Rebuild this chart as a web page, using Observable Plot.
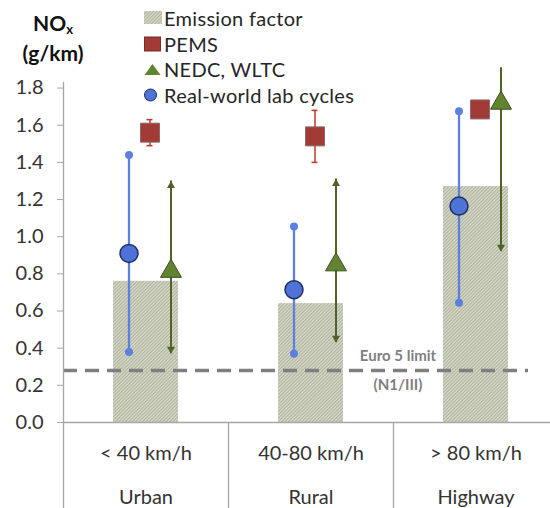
<!DOCTYPE html>
<html><head><meta charset="utf-8">
<script src="https://cdn.jsdelivr.net/npm/d3@7"></script>
<script src="https://cdn.jsdelivr.net/npm/@observablehq/plot@0.6"></script>
<style>
body{margin:0;background:#fff;font-family:Lato,"Open Sans",sans-serif;}
#wrap{position:relative;width:550px;height:508px;overflow:hidden;}
#wrap svg.chart{position:absolute;left:0;top:0;}
.ytitle{position:absolute;left:0;width:106px;text-align:center;font-weight:bold;font-size:21px;color:#111;line-height:21px;}
.legend{position:absolute;left:144px;top:5px;font-size:20px;letter-spacing:0.3px;color:#262626;}
.legend .row{height:25.7px;display:flex;align-items:center;white-space:nowrap;}
.legend svg{display:block;flex:none;}
</style></head>
<body>
<svg width="0" height="0" style="position:absolute">
<defs><pattern id="hatch" width="2.4" height="2.4" patternUnits="userSpaceOnUse" patternTransform="rotate(45)">
<rect width="2.4" height="2.4" fill="#d5d7c8"/><rect width="1" height="2.4" fill="#aeb29b"/></pattern></defs></svg>
<div id="wrap"></div>
<script>
// ---- data ----
const categories = ["< 40 km/h", "40-80 km/h", "> 80 km/h"];
const roads = ["Urban", "Rural", "Highway"];
const emissionFactor = [0.76, 0.64, 1.27];
const pemsMean = [1.56, 1.54, 1.685];
const pemsLow  = [1.49, 1.40, 1.685];
const pemsHigh = [1.63, 1.68, 1.685];
const cycleMean = [0.83, 0.865, 1.735];   // NEDC, WLTC
const cycleLow  = [0.37, 0.43, 0.92];
const cycleHigh = [1.30, 1.31, 1.91];
const labMean = [0.91, 0.715, 1.165];     // Real-world lab cycles
const labLow  = [0.38, 0.37, 0.645];
const labHigh = [1.44, 1.055, 1.675];
const euro5Limit = 0.28;
const yTicks = [0, 0.2, 0.4, 0.6, 0.8, 1.0, 1.2, 1.4, 1.6, 1.8];
const yMax = 1.83;
const legendItems = ["Emission factor", "PEMS", "NEDC, WLTC", "Real-world lab cycles"];

const rows = categories.map((c, i) => ({
  cat: c, road: roads[i], ef: emissionFactor[i],
  pm: pemsMean[i], pl: pemsLow[i], ph: pemsHigh[i],
  cm: cycleMean[i], cl: cycleLow[i], ch: cycleHigh[i],
  lm: labMean[i], ll: labLow[i], lh: labHigh[i]
}));

const axisGray = "#a6a6a6";
const blueLine = "#5b80de", blueFill = "#4f72d6", blueStroke = "#1f2f5f";
const redFill = "#a23a36", redLine = "#c0392b";
const greenFill = "#628330", greenLine = "#4f6228", greenStroke = "#3c5220";

const chart = Plot.plot({
  width: 550, height: 508,
  marginLeft: 63, marginRight: 0, marginTop: 82, marginBottom: 86,
  style: {fontFamily: "Lato, 'Open Sans', sans-serif", background: "transparent"},
  x: {type: "band", domain: categories, range: [63, 558], padding: 0},
  y: {domain: [0, yMax]},
  marks: [
    Plot.barY(rows, {x: "cat", y: "ef", fill: "url(#hatch)", insetLeft: 50, insetRight: 50}),
    Plot.ruleY([euro5Limit], {stroke: "#7f7f7f", strokeWidth: 3.5, strokeDasharray: "14,8", insetRight: 22}),
    Plot.text([{cat: categories[2], v: euro5Limit}], {x: "cat", y: "v", dx: -78, dy: -4,
      text: () => "Euro 5 limit\n(N1/III)", lineHeight: 1.9, fontSize: 15, fontWeight: "bold", fill: "#7f7f7f"}),
    // axes
    Plot.ruleY([0], {stroke: axisGray, strokeWidth: 1.3}),
    Plot.frame({anchor: "left", stroke: axisGray, strokeWidth: 1.3}),
    Plot.ruleX(categories, {x: d => d, dx: -82.5, y1: 0, y2: -0.47, stroke: axisGray, strokeWidth: 1.3}),
    Plot.axisY({ticks: yTicks, tickFormat: d3.format(".1f"), tickSize: 6, tickPadding: 14,
      fontSize: 20, stroke: axisGray, fill: "#333", label: null}),
    Plot.axisX({tickSize: 0, tickPadding: 6, lineHeight: 2.2, fontSize: 20, fill: "#333", label: null,
      tickFormat: d => d + "\n" + roads[categories.indexOf(d)]}),
    // real-world lab cycles (circle with range)
    Plot.ruleX(rows, {x: "cat", y1: "ll", y2: "lh", dx: -17, stroke: blueLine, strokeWidth: 2.3}),
    Plot.dot(rows, {x: "cat", y: "ll", dx: -17, r: 4, fill: blueLine}),
    Plot.dot(rows, {x: "cat", y: "lh", dx: -17, r: 4, fill: blueLine}),
    Plot.dot(rows, {x: "cat", y: "lm", dx: -17, r: 9, fill: blueFill, stroke: blueStroke, strokeWidth: 1.5}),
    // PEMS (square with error bar)
    Plot.ruleX(rows.filter(d => d.ph > d.pl), {x: "cat", y1: "pl", y2: "ph", dx: 4, stroke: redLine, strokeWidth: 1.5}),
    Plot.tickY(rows.filter(d => d.ph > d.pl), {x: "cat", y: "pl", dx: 4, stroke: redLine, strokeWidth: 1.5, insetLeft: 79.5, insetRight: 79.5}),
    Plot.tickY(rows.filter(d => d.ph > d.pl), {x: "cat", y: "ph", dx: 4, stroke: redLine, strokeWidth: 1.5, insetLeft: 79.5, insetRight: 79.5}),
    Plot.dot(rows, {x: "cat", y: "pm", dx: 4, symbol: "square", r: 10.7, fill: redFill, stroke: "#8a6a68", strokeWidth: 1}),
    // NEDC, WLTC (triangle with arrows)
    Plot.ruleX(rows, {x: "cat", y1: "cl", y2: "ch", dx: 25, stroke: greenLine, strokeWidth: 2}),
    Plot.dot(rows.filter(d => d.ch <= yMax), {x: "cat", y: "ch", dx: 25, dy: 4.6, symbol: "triangle", r: 3, fill: greenLine}),
    Plot.dot(rows, {x: "cat", y: "cl", dx: 25, dy: -4.6, symbol: "triangle", rotate: 180, r: 3, fill: greenLine}),
    Plot.dot(rows, {x: "cat", y: "cm", dx: 25, dy: 3, symbol: "triangle", r: 7.8, fill: greenFill, stroke: greenStroke, strokeWidth: 1})
  ]
});
chart.classList.add("chart");
const wrap = document.getElementById("wrap");
wrap.appendChild(chart);

// y-axis title
const t1 = document.createElement("div");
t1.className = "ytitle"; t1.style.top = "12px";
t1.innerHTML = "NO<sub style='font-size:13px;vertical-align:-3px;line-height:0'>x</sub>";
const t2 = document.createElement("div");
t2.className = "ytitle"; t2.style.top = "42px"; t2.textContent = "(g/km)";
wrap.appendChild(t1); wrap.appendChild(t2);

// legend
const icons = [
  `<svg width="20" height="16"><rect x="0" y="1" width="18" height="13" fill="url(#hatch)"/></svg>`,
  `<svg width="20" height="16"><rect x="0.5" y="1" width="16" height="14" fill="${redFill}" stroke="#7a2a28"/></svg>`,
  `<svg width="20" height="16"><polygon points="8.5,3 16.5,14 0.5,14" fill="${greenFill}"/></svg>`,
  `<svg width="20" height="16"><circle cx="6.5" cy="8" r="6" fill="${blueFill}" stroke="${blueStroke}" stroke-width="1"/></svg>`
];
const lg = document.createElement("div");
lg.className = "legend";
legendItems.forEach((name, i) => {
  const r = document.createElement("div");
  r.className = "row";
  r.innerHTML = icons[i] + `<span>${name}</span>`;
  lg.appendChild(r);
});
wrap.appendChild(lg);
</script>
</body></html>
